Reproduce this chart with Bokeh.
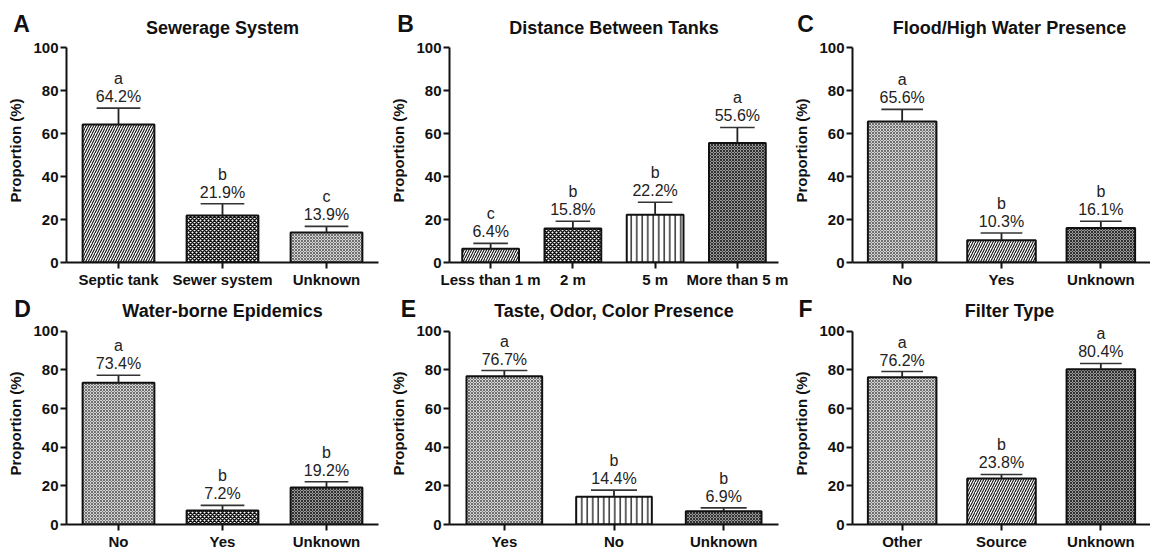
from bokeh.plotting import figure
from bokeh.models import ColumnDataSource, FactorRange, Range1d, FixedTicker
from bokeh.layouts import column, row
from bokeh.transform import dodge
from bokeh.embed import file_html
from bokeh.resources import INLINE
from bokeh.core.properties import value

# ---------------- data ----------------
A_cats = ["Septic tank", "Sewer system", "Unknown"]
A_vals = [64.2, 21.9, 13.9]
A_err = [7.6, 5.4, 2.9]
A_sig = ["a", "b", "c"]

B_cats = ["Less than 1 m", "2 m", "5 m", "More than 5 m"]
B_vals = [6.4, 15.8, 22.2, 55.6]
B_err = [2.5, 3.4, 5.8, 7.2]
B_sig = ["c", "b", "b", "a"]

C_cats = ["No", "Yes", "Unknown"]
C_vals = [65.6, 10.3, 16.1]
C_err = [5.6, 3.4, 3.1]
C_sig = ["a", "b", "b"]

D_cats = ["No", "Yes", "Unknown"]
D_vals = [73.4, 7.2, 19.2]
D_err = [3.9, 2.7, 2.9]
D_sig = ["a", "b", "b"]

E_cats = ["Yes", "No", "Unknown"]
E_vals = [76.7, 14.4, 6.9]
E_err = [3.0, 3.4, 1.7]
E_sig = ["a", "b", "b"]

F_cats = ["Other", "Source", "Unknown"]
F_vals = [76.2, 23.8, 80.4]
F_err = [3.0, 2.1, 3.0]
F_sig = ["a", "b", "a"]

titles = ["Sewerage System", "Distance Between Tanks", "Flood/High Water Presence",
          "Water-borne Epidemics", "Taste, Odor, Color Presence", "Filter Type"]
letters = ["A", "B", "C", "D", "E", "F"]
y_ticks = [0, 20, 40, 60, 80, 100]
y_label = "Proportion (%)"

# ---------------- styles ----------------
FONT = "Liberation Sans"
INK = "#111111"
PATTERNS = {
    "diag":  dict(fill="#ffffff", hatch="/", scale=5.0, weight=1.1, hcolor="#111111"),
    "check": dict(fill="#ffffff", hatch="x", scale=4.0, weight=1.5, hcolor="#111111"),
    "grey":  dict(fill="#d4d4d4", hatch="x", scale=3.0, weight=0.8, hcolor="#555555"),
    "vert":  dict(fill="#ffffff", hatch="|", scale=5.5, weight=1.3, hcolor="#111111"),
    "dark":  dict(fill="#9a9a9a", hatch="x", scale=3.0, weight=0.9, hcolor="#222222"),
}
panel_patterns = [
    ["diag", "check", "grey"],
    ["diag", "check", "vert", "dark"],
    ["grey", "diag", "dark"],
    ["grey", "check", "dark"],
    ["grey", "vert", "dark"],
    ["grey", "diag", "dark"],
]

# layout (pixels)
COL_W = [380, 410, 360]
COL_LEFT = [66, 69, 60]
COL_FRAME = [312, 329, 300]
TITLE_X = [66 + 156, 69 + 164.5, 60 + 159]
LETTER_X = [[21, 25, 15], [22, 28, 15]]
HEAD_H = [38, 32]
TITLE_Y = [11, 12]
LETTER_Y = [15, 14]
EXT = [9, 9]            # frame space above the 100 line
FRAME_H = [215, 196]    # 0..100 span
BOTTOM = [28, 25]


def make_header(idx, r, c):
    w, h = COL_W[c], HEAD_H[r]
    p = figure(x_range=Range1d(0, w), y_range=Range1d(0, h), width=w, height=h,
               output_backend="svg", toolbar_location=None,
               min_border=0, x_axis_location=None, y_axis_location=None)
    p.outline_line_color = None
    p.grid.visible = False
    p.background_fill_color = None
    p.border_fill_color = None
    p.text(x=[TITLE_X[c]], y=[TITLE_Y[r]], text=[titles[idx]], text_align="center",
           text_baseline="middle", text_font=value(FONT), text_font_style="bold",
           text_font_size="18px", text_color=INK)
    p.text(x=[LETTER_X[r][c]], y=[LETTER_Y[r]], text=[letters[idx]], text_align="center",
           text_baseline="middle", text_font=value(FONT), text_font_style="bold",
           text_font_size="23px", text_color=INK)
    return p


def make_panel(idx, r, c, cats, vals, errs, sigs):
    pats = panel_patterns[idx]
    src = ColumnDataSource(dict(
        cat=cats, val=vals, top=[v + e for v, e in zip(vals, errs)],
        pct=[f"{v:.1f}%" for v in vals], sig=sigs,
        fill=[PATTERNS[k]["fill"] for k in pats],
        hatch=[PATTERNS[k]["hatch"] for k in pats],
        hscale=[PATTERNS[k]["scale"] for k in pats],
        hweight=[PATTERNS[k]["weight"] for k in pats],
        hcolor=[PATTERNS[k]["hcolor"] for k in pats],
    ))
    w = COL_W[c]
    h = EXT[r] + FRAME_H[r] + BOTTOM[r]
    y_end = 100 + 100 * EXT[r] / FRAME_H[r]
    p = figure(x_range=FactorRange(*cats), y_range=Range1d(0, y_end),
               width=w, height=h, output_backend="svg", toolbar_location=None,
               min_border_left=COL_LEFT[c], min_border_right=w - COL_LEFT[c] - COL_FRAME[c],
               min_border_top=0, min_border_bottom=BOTTOM[r])
    p.outline_line_color = None
    p.xgrid.visible = False
    p.ygrid.visible = False
    p.background_fill_color = None
    p.border_fill_color = None

    p.vbar(x="cat", top="val", bottom=0, width=0.69, source=src,
           fill_color="fill", hatch_pattern="hatch", hatch_scale="hscale",
           hatch_weight="hweight", hatch_color="hcolor",
           line_color=INK, line_width=2)
    p.segment(x0="cat", y0="val", x1="cat", y1="top", source=src,
              line_color="#222222", line_width=1.8)
    p.segment(x0=dodge("cat", -0.21, range=p.x_range), y0="top",
              x1=dodge("cat", 0.21, range=p.x_range), y1="top", source=src,
              line_color="#333333", line_width=1.6)
    p.text(x="cat", y="top", text="pct", source=src, y_offset=-3,
           text_align="center", text_baseline="bottom",
           text_font=value(FONT), text_font_size="16px", text_color="#222222")
    p.text(x="cat", y="top", text="sig", source=src, y_offset=-21,
           text_align="center", text_baseline="bottom",
           text_font=value(FONT), text_font_size="16px", text_color="#222222")

    for ax in (p.xaxis[0], p.yaxis[0]):
        ax.axis_line_width = 2
        ax.axis_line_color = INK
        ax.major_tick_line_width = 2
        ax.major_tick_line_color = INK
        ax.major_tick_out = 6
        ax.major_tick_in = 0
        ax.minor_tick_line_color = None
        ax.minor_tick_out = 0
        ax.major_label_text_font = FONT
        ax.major_label_text_font_style = "bold"
        ax.major_label_text_font_size = "15px"
        ax.major_label_text_color = INK
        ax.major_label_standoff = 2
    p.yaxis.ticker = FixedTicker(ticks=y_ticks)
    p.yaxis.bounds = (0, 100)
    p.yaxis.axis_label = y_label
    p.yaxis.axis_label_text_font = FONT
    p.yaxis.axis_label_text_font_style = "bold"
    p.yaxis.axis_label_text_font_size = "15px"
    p.yaxis.axis_label_text_color = INK
    p.yaxis.axis_label_standoff = 6
    return p


data = [
    (A_cats, A_vals, A_err, A_sig), (B_cats, B_vals, B_err, B_sig), (C_cats, C_vals, C_err, C_sig),
    (D_cats, D_vals, D_err, D_sig), (E_cats, E_vals, E_err, E_sig), (F_cats, F_vals, F_err, F_sig),
]

rows = []
for r in range(2):
    heads, panels = [], []
    for c in range(3):
        idx = r * 3 + c
        heads.append(make_header(idx, r, c))
        panels.append(make_panel(idx, r, c, *data[idx]))
    rows.append(row(*heads))
    rows.append(row(*panels))

layout = column(*rows)
open("out.html", "w").write(file_html(layout, INLINE))
